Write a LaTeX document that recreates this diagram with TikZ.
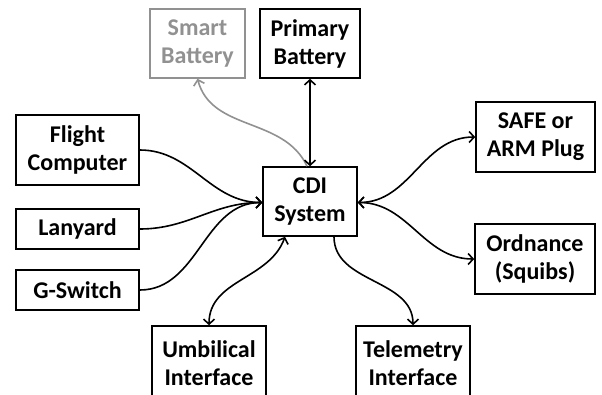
\documentclass[tikz,border=0pt]{standalone}
\usepackage{fontspec}
\setmainfont{Carlito}
\usetikzlibrary{arrows.meta}

\definecolor{smartgray}{RGB}{145,145,145}

\begin{document}
\begin{tikzpicture}[
  x = 1pt, y = -1pt,
  >= {Straight Barb[length=5pt,width=11pt,line width=1.6pt]},
  every node/.style = {draw, line width = 1.6pt, align = center,
                       inner sep = 0pt, font = \fontsize{24}{28}\selectfont\bfseries},
  link/.style = {line width = 1.6pt},
  ]
  \useasboundingbox (0,0) rectangle (602,394);

  \node[smartgray, minimum width = 95pt, minimum height = 69pt] (smart) at (197.5,43.5) {Smart\\Battery};
  \node[minimum width = 100pt, minimum height = 69pt] (primary) at (310,43.5) {Primary\\Battery};
  \node[minimum width = 123pt, minimum height = 70pt] (flight) at (77.5,150) {Flight\\Computer};
  \node[minimum width = 123pt, minimum height = 40pt] (lanyard) at (77.5,229) {Lanyard};
  \node[minimum width = 123pt, minimum height = 40pt] (gswitch) at (77.5,290) {G-Switch};
  \node[minimum width = 94pt, minimum height = 69pt] (cdi) at (310,201.5) {CDI\\System};
  \node[minimum width = 119pt, minimum height = 70pt] (safe) at (535.5,137) {SAFE or\\ARM Plug};
  \node[minimum width = 120pt, minimum height = 70pt] (ordnance) at (535,259) {Ordnance\\(Squibs)};
  \node[minimum width = 114pt, minimum height = 74pt] (umbilical) at (209,363) {Umbilical\\Interface};
  \node[minimum width = 114pt, minimum height = 74pt] (telemetry) at (413,363) {Telemetry\\Interface};

  % power
  \draw[link, smartgray, ->] ([xshift=-3pt]cdi.north) to[out=115, in=-75] (smart.south);
  \draw[link, <->] (cdi.north) -- (primary.south);

  % inputs
  \draw[link, ->] (flight.east) to[out=0, in=180] ([yshift=-1pt]cdi.west);
  \draw[link, ->] (lanyard.east) to[out=0, in=180] ([yshift=-1pt]cdi.west);
  \draw[link, ->] (gswitch.east) to[out=0, in=180] ([yshift=-1pt]cdi.west);

  % outputs
  \draw[link, <->] ([yshift=-1pt]cdi.east) to[out=0, in=180] (safe.west);
  \draw[link, <->] ([yshift=-1pt]cdi.east) to[out=0, in=180] (ordnance.west);
  \draw[link, <->] ([xshift=-25pt]cdi.south) to[out=-110, in=90] (umbilical.north);
  \draw[link, ->] ([xshift=24pt]cdi.south) to[out=-90, in=90] (telemetry.north);
\end{tikzpicture}
\end{document}
